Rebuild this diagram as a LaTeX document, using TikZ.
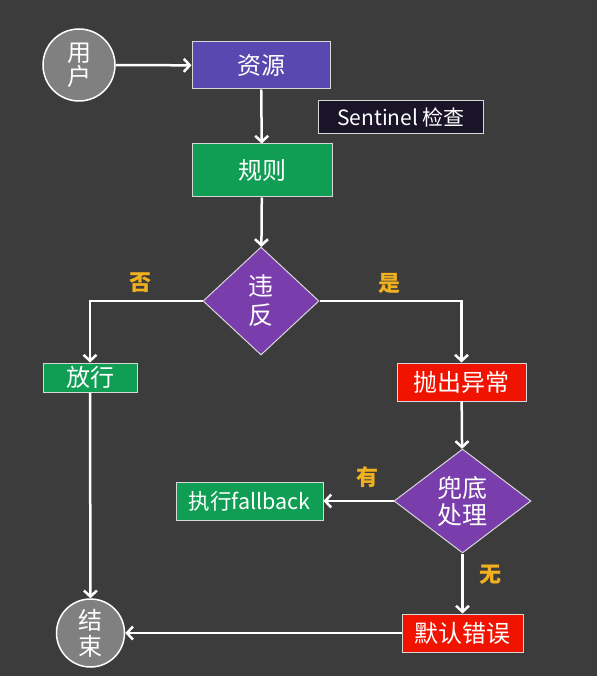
\documentclass[tikz,border=0pt]{standalone}
\usepackage{fontspec}
\usepackage{xcolor}
\usetikzlibrary{shapes.geometric,arrows.meta}
\setmainfont{Noto Sans CJK SC}
\definecolor{bg}{RGB}{60, 60, 60}
\definecolor{res}{RGB}{88, 72, 176}
\definecolor{ok}{RGB}{16, 158, 84}
\definecolor{bad}{RGB}{240, 20, 0}
\definecolor{ask}{RGB}{122, 62, 172}
\definecolor{ends}{RGB}{128, 128, 128}
\definecolor{note}{RGB}{26, 20, 40}
\definecolor{lbl}{RGB}{240, 176, 32}
\definecolor{edge}{RGB}{215, 215, 215}

\tikzset{
  box/.style={draw=edge, line width=1pt, text=white, inner sep=0pt,
    font=\fontsize{24}{28}\selectfont},
  ask/.style={diamond, draw=edge, line width=1pt, fill=ask, text=white,
    inner sep=0pt, align=center, font=\fontsize{25}{29}\selectfont},
  term/.style={circle, draw=white, line width=1.5pt, fill=ends, text=white,
    inner sep=0pt, align=center, font=\fontsize{24}{24}\selectfont},
  flow/.style={draw=white, line width=2.5pt,
    -{Straight Barb[length=6pt, width=13pt, line width=2.5pt]}},
  yes/.style={text=lbl, font=\fontsize{22}{24}\selectfont\bfseries}
}

\begin{document}
\begin{tikzpicture}[x=1pt, y=-1pt]
      \fill[bg] (0, 0) rectangle (597, 676);
      \useasboundingbox (0, 0) rectangle (597, 676);
      % nodes
      \node[term, minimum size=72pt] (user) at (79, 65) {用\\户};
      \node[box, fill=res, minimum width=138pt, minimum height=47pt] (res) at (261, 65.5) {资源};
      \node[box, fill=note, minimum width=165pt, minimum height=33pt,
        font=\fontsize{21}{24}\selectfont] (check) at (401, 117.5) {Sentinel 检查};
      \node[box, fill=ok, minimum width=140pt, minimum height=53pt] (rule) at (262, 170.5) {规则};
      \node[ask, minimum width=116pt, minimum height=108pt] (break) at (261, 301) {违\\反};
      \node[box, fill=ok, minimum width=94pt, minimum height=29pt] (pass) at (90, 377.5) {放行};
      \node[box, fill=bad, minimum width=129pt, minimum height=38pt] (throw) at (461.5, 382) {抛出异常};
      \node[ask, minimum width=137pt, minimum height=104pt,
        font=\fontsize{25}{27}\selectfont] (back) at (462.5, 501) {兜底\\处理};
      \node[box, fill=ok, minimum width=147pt, minimum height=38pt,
        font=\fontsize{21.5}{24}\selectfont] (fallback) at (249.5, 501) {执行fallback};
      \node[box, fill=bad, minimum width=121pt, minimum height=38pt] (dflt) at (462.5, 633) {默认错误};
      \node[term, minimum size=68pt, font=\fontsize{24}{26}\selectfont] (end) at (90.5, 633) {结\\束};
      % labels
      \node[yes] (no) at (140, 283) {否};
      \node[yes] (yes) at (389, 283) {是};
      \node[yes] (have) at (367, 477) {有};
      \node[yes] (none) at (490, 575) {无};
      % connectors
      \draw[flow] (user) -- (res);
      \draw[flow] (res) -- (rule);
      \draw[flow] (rule) -- (break);
      \draw[flow] (break.west) -| (pass.north);
      \draw[flow] (break.east) -| (throw.north);
      \draw[flow] (pass) -- (end);
      \draw[flow] (throw) -- (back);
      \draw[flow] (back) -- (fallback);
      \draw[flow] (back) -- (dflt);
      \draw[flow] (dflt) -- (end);
    \end{tikzpicture}
\end{document}
